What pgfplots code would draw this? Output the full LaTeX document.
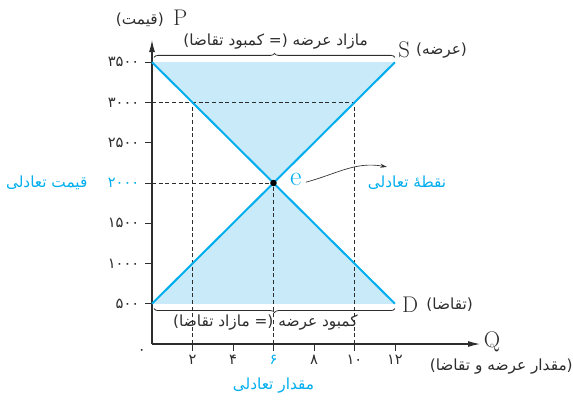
\documentclass[border=0pt]{standalone}
\usepackage{fontspec}
\usepackage{pgfplots}
\pgfplotsset{compat=1.18}
\usetikzlibrary{decorations.pathreplacing,arrows.meta}
\newfontfamily\arabicfont[Script=Arabic]{DejaVu Sans}
\TeXXeTstate=1
\definecolor{eqcyan}{RGB}{0,174,239}
\definecolor{gapfill}{RGB}{200,234,249}
\definecolor{axgray}{RGB}{45,45,45}
\newcommand{\fa}[1]{{\arabicfont\beginR #1\endR}}
\newcommand{\fasize}{\fontsize{11.5}{13}\selectfont}
\newcommand{\ticksize}{\fontsize{11}{12}\selectfont}
\newcommand{\latbig}{\fontsize{17}{19}\selectfont}

\begin{document}
\begin{tikzpicture}
\path[use as bounding box] (-114pt,-45.75pt) rectangle (315.75pt,258pt);
\begin{axis}[
    scale only axis,
    width=246pt, height=228pt,
    xmin=0, xmax=16.2, ymin=0, ymax=3776,
    axis lines=left,
    axis line style={axgray, line width=0.8pt},
    x axis line style={-{Latex[length=9pt,width=4.5pt]}},
    y axis line style={-{Latex[length=9pt,width=4.5pt]}},
    tick align=outside,
    major tick length=5pt,
    tick style={axgray, line width=0.6pt},
    xtick={2,4,6,8,10,12},
    xticklabels={۲,۴,\textcolor{eqcyan}{۶},۸,۱۰,۱۲},
    ytick={500,1000,1500,2000,2500,3000,3500},
    yticklabels={۵۰۰,۱۰۰۰,۱۵۰۰,\textcolor{eqcyan}{۲۰۰۰},۲۵۰۰,۳۰۰۰,۳۵۰۰},
    ticklabel style={font=\arabicfont\ticksize, text=axgray},
    yticklabel style={xshift=-1pt},
    clip=false,
]
% shaded gaps
\addplot[fill=gapfill, draw=none] coordinates {(0,3500) (12,3500) (6,2000)} -- cycle;
\addplot[fill=gapfill, draw=none] coordinates {(0,500) (12,500) (6,2000)} -- cycle;
% guide lines
\addplot[axgray, line width=0.6pt, dash pattern=on 3pt off 2pt] coordinates {(0,3000) (10,3000)};
\addplot[axgray, line width=0.6pt, dash pattern=on 3pt off 2pt] coordinates {(0,2000) (6,2000)};
\addplot[axgray, line width=0.6pt, dash pattern=on 3pt off 2pt] coordinates {(2,0) (2,3000)};
\addplot[axgray, line width=0.6pt, dash pattern=on 3pt off 2pt] coordinates {(6,0) (6,2000)};
\addplot[axgray, line width=0.6pt, dash pattern=on 3pt off 2pt] coordinates {(10,0) (10,3000)};
% supply and demand
\addplot[eqcyan, line width=1.5pt] coordinates {(0,500) (12,3500)};
\addplot[eqcyan, line width=1.5pt] coordinates {(0,3500) (12,500)};
\addplot[only marks, mark=*, mark size=2.2pt, black] coordinates {(6,2000)};
% braces
\draw[axgray, line width=0.6pt, decorate, decoration={brace, amplitude=3pt}]
    (axis cs:0.1,3560) -- (axis cs:12,3560);
\draw[axgray, line width=0.6pt, decorate, decoration={brace, amplitude=3pt}]
    (axis cs:12,440) -- (axis cs:0.1,440);
\node[text=axgray, font=\fasize] at (axis cs:6.1,3755) {\fa{مازاد عرضه (= کمبود تقاضا)}};
\node[text=axgray, font=\fasize] at (axis cs:5.6,270) {\fa{کمبود عرضه (= مازاد تقاضا)}};
% labels
\node[font=\latbig, text=axgray] at (axis cs:1.4,4050) {P};
\node[text=axgray, font=\fasize] at (axis cs:-0.6,4025) {\fa{(قیمت)}};
\node[font=\latbig, text=axgray] at (axis cs:12.45,3650) {S};
\node[text=axgray, font=\fasize] at (axis cs:14.3,3650) {\fa{(عرضه)}};
\node[font=\latbig, text=axgray] at (axis cs:12.75,484) {D};
\node[text=axgray, font=\fasize] at (axis cs:14.7,484) {\fa{(تقاضا)}};
\node[font=\latbig, text=axgray] at (axis cs:16.8,30) {Q};
\node[text=axgray, font=\fasize] at (axis cs:17.25,-280) {\fa{(مقدار عرضه و تقاضا)}};
\node[text=axgray, font=\ticksize] at (axis cs:-0.5,-100) {\arabicfont ۰};
\node[text=eqcyan, font=\fasize] at (axis cs:-5.2,2000) {\fa{قیمت تعادلی}};
\node[text=eqcyan, font=\fasize] at (axis cs:6,-510) {\fa{مقدار تعادلی}};
\node[text=eqcyan, font=\fontsize{21}{23}\selectfont] at (axis cs:7.1,2040) {e};
\node[text=eqcyan, font=\fasize] at (axis cs:12.6,2000) {\fa{نقطهٔ تعادلی}};
\draw[axgray, line width=0.5pt, -{Stealth[length=5pt,width=3pt]}]
    (axis cs:7.6,2010) to[out=15, in=170] (axis cs:11.6,2200);
\end{axis}
\end{tikzpicture}
\end{document}
